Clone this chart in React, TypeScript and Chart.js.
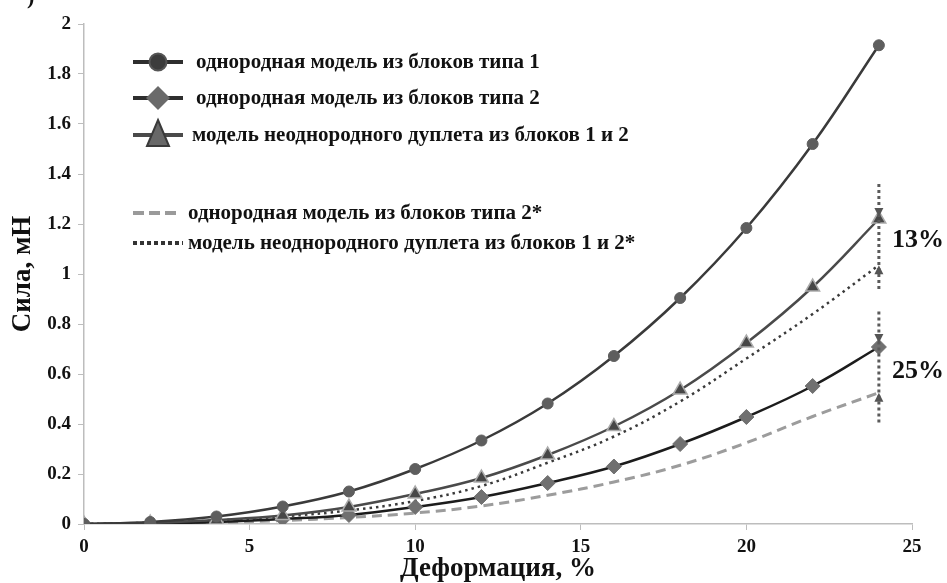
import React, { useEffect, useRef } from "react";
import { Chart, registerables } from "chart.js";

Chart.register(...registerables);

const xValues = [0, 2, 4, 6, 8, 10, 12, 14, 16, 18, 20, 22, 24];
const type1 = [0, 0.008, 0.03, 0.07, 0.13, 0.22, 0.334, 0.482, 0.672, 0.904, 1.184, 1.52, 1.915];
const type2 = [0, 0.002, 0.008, 0.02, 0.036, 0.068, 0.108, 0.164, 0.23, 0.32, 0.428, 0.552, 0.708];
const doublet = [0, 0.004, 0.016, 0.034, 0.068, 0.12, 0.184, 0.276, 0.39, 0.536, 0.724, 0.948, 1.22];
const type2Star = [0, 0.002, 0.006, 0.014, 0.026, 0.044, 0.072, 0.115, 0.168, 0.235, 0.325, 0.43, 0.525];
const doubletStar = [0, 0.005, 0.014, 0.03, 0.054, 0.092, 0.152, 0.245, 0.35, 0.49, 0.662, 0.84, 1.035];

const yTickLabels = ["0", "0.2", "0.4", "0.6", "0.8", "1", "1.2", "1.4", "1.6", "1.8", "2"];
const xTickLabels = ["0", "5", "10", "15", "20", "25"];

const legendLabels = [
  "однородная модель из блоков типа 1",
  "однородная модель из блоков типа 2",
  "модель неоднородного дуплета из блоков 1 и 2",
  "однородная модель из блоков типа 2*",
  "модель неоднородного дуплета из блоков 1 и 2*",
];
const percentLabels = ["13%", "25%"];
const arrowX = 24;
const arrowTopSpan = [1.36, 0.94];
const arrowBottomSpan = [0.85, 0.4];

const FONT = '"Liberation Serif", "Times New Roman", serif';

function pts(ys: number[]) {
  return xValues.map((x, i) => ({ x, y: ys[i] }));
}

function drawHead(ctx: CanvasRenderingContext2D, x: number, tipY: number, dir: number) {
  ctx.beginPath();
  ctx.moveTo(x, tipY);
  ctx.lineTo(x - 4.5, tipY - dir * 9);
  ctx.lineTo(x + 4.5, tipY - dir * 9);
  ctx.closePath();
  ctx.fill();
}

const annotPlugin = {
  id: "annot",
  afterDatasetsDraw(chart: any) {
    const ctx: CanvasRenderingContext2D = chart.ctx;
    const xs = chart.scales.x;
    const ys = chart.scales.y;
    const ax = xs.getPixelForValue(arrowX);
    ctx.save();
    ctx.strokeStyle = "#5a5a5a";
    ctx.fillStyle = "#555555";
    ctx.lineWidth = 3;
    ctx.setLineDash([3, 3]);
    for (const span of [arrowTopSpan, arrowBottomSpan]) {
      ctx.beginPath();
      ctx.moveTo(ax, ys.getPixelForValue(span[0]));
      ctx.lineTo(ax, ys.getPixelForValue(span[1]));
      ctx.stroke();
    }
    ctx.setLineDash([]);
    drawHead(ctx, ax, ys.getPixelForValue(doublet[doublet.length - 1]) - 2, 1);
    drawHead(ctx, ax, ys.getPixelForValue(doubletStar[doubletStar.length - 1]), -1);
    drawHead(ctx, ax, ys.getPixelForValue(type2[type2.length - 1]) - 4, 1);
    drawHead(ctx, ax, ys.getPixelForValue(type2Star[type2Star.length - 1]), -1);

    ctx.fillStyle = "#111111";
    ctx.font = `bold 26px ${FONT}`;
    ctx.textAlign = "left";
    ctx.textBaseline = "middle";
    ctx.fillText(percentLabels[0], 892, 240);
    ctx.fillText(percentLabels[1], 892, 371);

    const rows = [
      { y: 62, tx: 196, kind: "circle" },
      { y: 98, tx: 196, kind: "diamond" },
      { y: 135, tx: 192, kind: "triangle" },
      { y: 213, tx: 188, kind: "dash" },
      { y: 243, tx: 188, kind: "dot" },
    ];
    rows.forEach((r, i) => {
      ctx.save();
      ctx.lineCap = "butt";
      if (r.kind === "dash") {
        ctx.strokeStyle = "#9a9a9a";
        ctx.lineWidth = 4;
        ctx.setLineDash([11, 5]);
        ctx.beginPath();
        ctx.moveTo(133, r.y);
        ctx.lineTo(181, r.y);
        ctx.stroke();
      } else if (r.kind === "dot") {
        ctx.strokeStyle = "#333333";
        ctx.lineWidth = 4;
        ctx.setLineDash([4, 3]);
        ctx.beginPath();
        ctx.moveTo(133, r.y);
        ctx.lineTo(183, r.y);
        ctx.stroke();
      } else {
        ctx.strokeStyle = r.kind === "triangle" ? "#4a4a4a" : "#2e2e2e";
        ctx.lineWidth = 4;
        ctx.beginPath();
        ctx.moveTo(133, r.y);
        ctx.lineTo(183, r.y);
        ctx.stroke();
        const cx = 158;
        if (r.kind === "circle") {
          ctx.fillStyle = "#3c3c3c";
          ctx.strokeStyle = "#555555";
          ctx.lineWidth = 2;
          ctx.beginPath();
          ctx.arc(cx, r.y, 8.5, 0, Math.PI * 2);
          ctx.fill();
          ctx.stroke();
        } else if (r.kind === "diamond") {
          ctx.fillStyle = "#6a6a6a";
          ctx.beginPath();
          ctx.moveTo(cx, r.y - 12);
          ctx.lineTo(cx + 12, r.y);
          ctx.lineTo(cx, r.y + 12);
          ctx.lineTo(cx - 12, r.y);
          ctx.closePath();
          ctx.fill();
        } else {
          ctx.fillStyle = "#686868";
          ctx.strokeStyle = "#3a3a3a";
          ctx.lineWidth = 2;
          ctx.beginPath();
          ctx.moveTo(cx, r.y - 15);
          ctx.lineTo(cx + 11, r.y + 11);
          ctx.lineTo(cx - 11, r.y + 11);
          ctx.closePath();
          ctx.fill();
          ctx.stroke();
        }
      }
      ctx.restore();
      ctx.fillStyle = "#111111";
      ctx.font = `bold 21px ${FONT}`;
      ctx.textAlign = "left";
      ctx.textBaseline = "middle";
      ctx.fillText(legendLabels[i], r.tx, r.y + 1);
    });

    ctx.font = `bold 22px ${FONT}`;
    ctx.fillStyle = "#111111";
    ctx.textBaseline = "alphabetic";
    ctx.fillText(")", 27, 4);
    ctx.restore();
  },
};

export default function App() {
  const ref = useRef<HTMLCanvasElement | null>(null);
  useEffect(() => {
    if (!ref.current) return;
    const lineCommon = { tension: 0.4, fill: false, showLine: true };
    const chart = new Chart(ref.current, {
      type: "scatter",
      data: {
        datasets: [
          {
            ...lineCommon,
            label: legendLabels[0],
            data: pts(type1),
            borderColor: "#3a3a3a",
            borderWidth: 2.5,
            pointStyle: "circle",
            pointRadius: 5.5,
            pointBackgroundColor: "#5e5e5e",
            pointBorderColor: "#5e5e5e",
            pointBorderWidth: 1,
          },
          {
            ...lineCommon,
            label: legendLabels[2],
            data: pts(doublet),
            borderColor: "#4a4a4a",
            borderWidth: 2.5,
            pointStyle: "triangle",
            pointRadius: 8,
            pointBackgroundColor: "#474747",
            pointBorderColor: "#ababab",
            pointBorderWidth: 1.5,
          },
          {
            ...lineCommon,
            label: legendLabels[1],
            data: pts(type2),
            borderColor: "#1c1c1c",
            borderWidth: 2.5,
            pointStyle: "rectRot",
            pointRadius: 7.5,
            pointBackgroundColor: "#707070",
            pointBorderColor: "#707070",
            pointBorderWidth: 1,
          },
          {
            ...lineCommon,
            label: legendLabels[4],
            data: pts(doubletStar),
            borderColor: "#3a3a3a",
            borderWidth: 2.5,
            borderDash: [2.5, 4],
            pointRadius: 0,
          },
          {
            ...lineCommon,
            label: legendLabels[3],
            data: pts(type2Star),
            borderColor: "#9c9c9c",
            borderWidth: 3,
            borderDash: [10, 6],
            pointRadius: 0,
          },
        ],
      },
      options: {
        animation: false,
        responsive: false,
        maintainAspectRatio: false,
        layout: { padding: { top: 24, right: 35, left: 0, bottom: 0 } },
        plugins: {
          legend: { display: false },
          tooltip: { enabled: false },
          title: { display: false },
        },
        scales: {
          x: {
            type: "linear",
            min: 0,
            max: 25,
            afterFit: (s: any) => {
              s.height = 59;
            },
            ticks: {
              stepSize: 5,
              padding: 6,
              color: "#111111",
              font: { family: FONT, size: 19, weight: "bold" },
              callback: (v: any) => {
                const i = xTickLabels.indexOf(String(v));
                return i >= 0 ? xTickLabels[i] : "";
              },
            },
            grid: {
              drawOnChartArea: false,
              drawTicks: true,
              tickLength: 6,
              color: "#bdbdbd",
            },
            border: { display: true, color: "#bdbdbd", width: 1.5 },
            title: {
              display: true,
              text: "Деформация, %",
              color: "#111111",
              font: { family: FONT, size: 27, weight: "bold", lineHeight: 1.0 },
              padding: { top: 0, bottom: 0 },
            },
          },
          y: {
            type: "linear",
            min: 0,
            max: 2,
            afterFit: (s: any) => {
              s.width = 84;
            },
            ticks: {
              stepSize: 0.2,
              padding: 7,
              color: "#111111",
              font: { family: FONT, size: 19, weight: "bold" },
              callback: (_v: any, i: number) => yTickLabels[i] ?? "",
            },
            grid: {
              drawOnChartArea: false,
              drawTicks: true,
              tickLength: 6,
              color: "#bdbdbd",
            },
            border: { display: true, color: "#bdbdbd", width: 1.5 },
            title: {
              display: true,
              text: "Сила, мН",
              color: "#111111",
              font: { family: FONT, size: 27, weight: "bold", lineHeight: 1.0 },
              padding: { top: 10, bottom: 0 },
            },
          },
        },
      },
      plugins: [annotPlugin],
    } as any);
    return () => chart.destroy();
  }, []);
  return (
    <div style={{ position: "fixed", left: 0, top: 0, width: 947, height: 583, background: "#ffffff" }}>
      <canvas ref={ref} width={947} height={583} style={{ display: "block" }} />
    </div>
  );
}
